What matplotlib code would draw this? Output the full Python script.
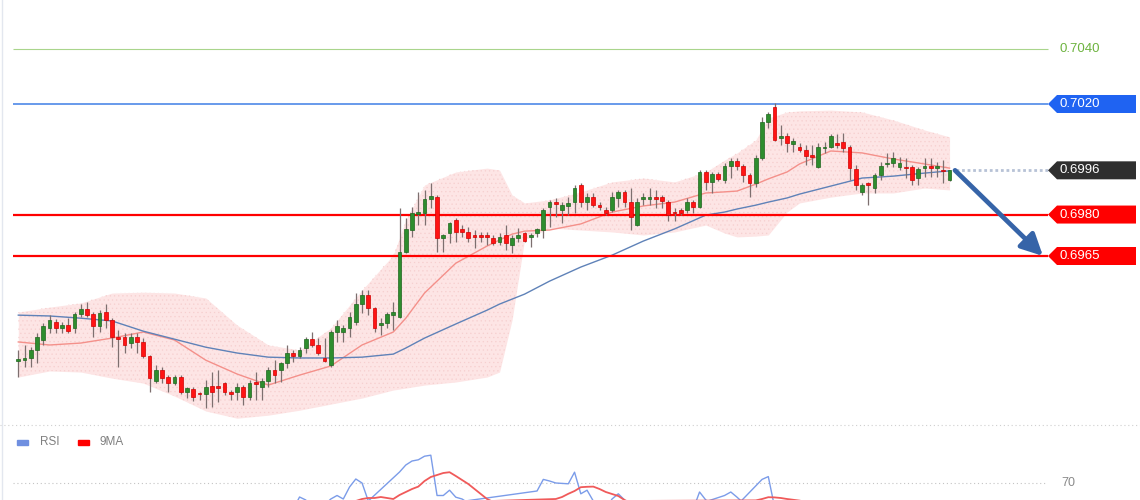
import numpy as np
import matplotlib
matplotlib.use("Agg")
import matplotlib.pyplot as plt
from matplotlib.patches import Polygon, Rectangle
from matplotlib.transforms import IdentityTransform

# ---------------- data ----------------
opens = [0.69270,0.69273,0.69281,0.69310,0.69346,0.69389,0.69411,0.69389,0.69400,0.69389,
         0.69440,0.69458,0.69440,0.69396,0.69447,0.69418,0.69357,0.69357,0.69335,0.69357,
         0.69339,0.69288,0.69197,0.69237,0.69212,0.69190,0.69212,0.69158,0.69168,0.69154,
         0.69150,0.69179,0.69179,0.69190,0.69158,0.69158,0.69176,0.69139,0.69194,0.69176,
         0.69197,0.69237,0.69237,0.69262,0.69299,0.69288,0.69317,0.69349,0.69328,0.69281,
         0.69255,0.69375,0.69375,0.69389,0.69411,0.69476,0.69509,0.69462,0.69400,0.69407,
         0.69436,0.69429,0.69664,0.69744,0.69802,0.69805,0.69856,0.69863,0.69715,0.69733,
         0.69780,0.69748,0.69737,0.69726,0.69726,0.69726,0.69715,0.69701,0.69726,0.69690,
         0.69715,0.69733,0.69719,0.69733,0.69744,0.69827,0.69845,0.69816,0.69831,0.69845,
         0.69907,0.69845,0.69863,0.69834,0.69816,0.69816,0.69860,0.69882,0.69845,0.69762,
         0.69856,0.69858,0.69863,0.69863,0.69845,0.69809,0.69816,0.69816,0.69845,0.69827,
         0.69954,0.69918,0.69947,0.69925,0.69976,0.69994,0.69976,0.69943,0.69914,0.70005,
         0.70135,0.70189,0.70077,0.70084,0.70055,0.70044,0.70034,0.70015,0.69972,0.70041,
         0.70044,0.70059,0.70063,0.70044,0.69965,0.69882,0.69914,0.69896,0.69943,0.69983,
         0.69986,0.69972,0.69972,0.69972,0.69932,0.69968,0.69976,0.69968,0.69961,0.69925]
highs = [0.69310,0.69328,0.69320,0.69371,0.69407,0.69436,0.69422,0.69411,0.69425,0.69447,
         0.69476,0.69483,0.69447,0.69454,0.69476,0.69425,0.69382,0.69371,0.69371,0.69371,
         0.69353,0.69291,0.69255,0.69248,0.69219,0.69219,0.69219,0.69176,0.69176,0.69158,
         0.69201,0.69230,0.69237,0.69194,0.69165,0.69190,0.69183,0.69201,0.69230,0.69208,
         0.69248,0.69273,0.69266,0.69328,0.69310,0.69320,0.69357,0.69375,0.69353,0.69353,
         0.69382,0.69418,0.69400,0.69447,0.69516,0.69527,0.69527,0.69465,0.69425,0.69447,
         0.69483,0.69824,0.69787,0.69827,0.69882,0.69889,0.69914,0.69871,0.69729,0.69773,
         0.69787,0.69762,0.69755,0.69744,0.69737,0.69737,0.69726,0.69733,0.69762,0.69726,
         0.69751,0.69737,0.69733,0.69751,0.69824,0.69853,0.69860,0.69845,0.69863,0.69907,
         0.69914,0.69878,0.69878,0.69845,0.69827,0.69882,0.69889,0.69889,0.69896,0.69860,
         0.69878,0.69896,0.69889,0.69871,0.69853,0.69824,0.69824,0.69860,0.69853,0.69961,
         0.69961,0.69954,0.69954,0.69986,0.70005,0.70005,0.69983,0.69950,0.70015,0.70153,
         0.70171,0.70204,0.70124,0.70095,0.70077,0.70059,0.70052,0.70052,0.70059,0.70063,
         0.70091,0.70091,0.70095,0.70052,0.69979,0.69914,0.69918,0.69950,0.69990,0.70023,
         0.70026,0.70008,0.70005,0.69979,0.69972,0.70005,0.70005,0.69990,0.69997,0.69962]
lows = [0.69212,0.69248,0.69248,0.69262,0.69328,0.69371,0.69371,0.69371,0.69371,0.69371,
        0.69429,0.69429,0.69357,0.69375,0.69389,0.69320,0.69248,0.69299,0.69317,0.69299,
        0.69281,0.69158,0.69190,0.69190,0.69158,0.69183,0.69150,0.69136,0.69125,0.69129,
        0.69100,0.69103,0.69121,0.69147,0.69129,0.69129,0.69110,0.69129,0.69129,0.69129,
        0.69176,0.69190,0.69194,0.69244,0.69266,0.69281,0.69299,0.69320,0.69291,0.69266,
        0.69248,0.69339,0.69339,0.69357,0.69400,0.69443,0.69436,0.69375,0.69364,0.69389,
        0.69382,0.69425,0.69661,0.69719,0.69762,0.69762,0.69824,0.69664,0.69664,0.69697,
        0.69701,0.69719,0.69701,0.69679,0.69701,0.69690,0.69690,0.69690,0.69672,0.69661,
        0.69701,0.69701,0.69682,0.69719,0.69715,0.69755,0.69791,0.69769,0.69798,0.69805,
        0.69827,0.69816,0.69827,0.69816,0.69798,0.69809,0.69827,0.69827,0.69744,0.69758,
        0.69834,0.69834,0.69824,0.69824,0.69777,0.69777,0.69798,0.69805,0.69805,0.69824,
        0.69889,0.69878,0.69921,0.69914,0.69932,0.69961,0.69918,0.69863,0.69900,0.69997,
        0.70113,0.70066,0.70052,0.70026,0.70026,0.70026,0.69979,0.69979,0.69968,0.70023,
        0.70041,0.70041,0.70026,0.69925,0.69889,0.69871,0.69834,0.69878,0.69925,0.69972,
        0.69972,0.69961,0.69932,0.69907,0.69907,0.69936,0.69936,0.69936,0.69914,0.69921]
closes = [0.69277,0.69281,0.69310,0.69357,0.69396,0.69418,0.69389,0.69400,0.69378,0.69440,
          0.69458,0.69436,0.69396,0.69443,0.69418,0.69357,0.69349,0.69328,0.69357,0.69339,
          0.69288,0.69208,0.69237,0.69208,0.69190,0.69212,0.69158,0.69172,0.69139,0.69150,
          0.69176,0.69158,0.69172,0.69158,0.69150,0.69176,0.69139,0.69190,0.69186,0.69197,
          0.69237,0.69219,0.69262,0.69299,0.69288,0.69310,0.69349,0.69328,0.69299,0.69270,
          0.69375,0.69396,0.69389,0.69429,0.69476,0.69509,0.69462,0.69389,0.69407,0.69440,
          0.69447,0.69664,0.69748,0.69805,0.69809,0.69856,0.69867,0.69715,0.69726,0.69769,
          0.69737,0.69737,0.69715,0.69719,0.69719,0.69719,0.69697,0.69719,0.69697,0.69715,
          0.69726,0.69704,0.69726,0.69748,0.69816,0.69845,0.69838,0.69834,0.69842,0.69896,
          0.69845,0.69863,0.69834,0.69827,0.69805,0.69863,0.69882,0.69845,0.69791,0.69845,
          0.69863,0.69865,0.69856,0.69849,0.69798,0.69804,0.69805,0.69845,0.69827,0.69954,
          0.69918,0.69947,0.69929,0.69976,0.69994,0.69976,0.69943,0.69914,0.70005,0.70135,
          0.70164,0.70070,0.70084,0.70059,0.70066,0.70034,0.70012,0.70010,0.70044,0.70046,
          0.70084,0.70052,0.70041,0.69968,0.69907,0.69907,0.69907,0.69943,0.69976,0.69986,
          0.70005,0.69986,0.69967,0.69925,0.69965,0.69976,0.69968,0.69976,0.69958,0.69960]

# indicator lines (read at these candle numbers)
ind_idx = [0,5,10,15,20,25,30,35,40,45,50,55,60,62,65,70,75,77,79,81,85,90,95,100,
           105,110,113,115,118,120,123,125,130,135,140,145,149]
ma_red = [0.69339,0.69328,0.69335,0.69353,0.69375,0.69346,0.69273,0.69223,0.69183,0.69219,
          0.69252,0.69328,0.69375,0.69425,0.69516,0.69624,0.69686,0.69708,0.69729,0.69740,
          0.69744,0.69766,0.69809,0.69831,0.69845,0.69878,0.69882,0.69885,0.69910,0.69929,
          0.69954,0.69983,0.70030,0.70023,0.70001,0.69983,0.69968]
ma_blue = [0.69436,0.69433,0.69425,0.69415,0.69378,0.69349,0.69320,0.69299,0.69284,0.69281,
           0.69281,0.69284,0.69295,0.69317,0.69353,0.69404,0.69454,0.69476,0.69494,0.69512,
           0.69559,0.69610,0.69653,0.69704,0.69748,0.69798,0.69809,0.69820,0.69834,0.69845,
           0.69860,0.69874,0.69903,0.69932,0.69939,0.69950,0.69958]
band_up = [0.69447,0.69465,0.69480,0.69516,0.69519,0.69516,0.69498,0.69400,0.69328,0.69310,
           0.69389,0.69527,0.69653,0.69780,0.69907,0.69954,0.69968,0.69961,0.69871,0.69842,
           0.69853,0.69882,0.69918,0.69932,0.69918,0.69954,0.69997,0.70023,0.70070,0.70149,
           0.70171,0.70175,0.70178,0.70171,0.70142,0.70106,0.70081]
band_lo = [0.69212,0.69234,0.69230,0.69208,0.69190,0.69143,0.69089,0.69063,0.69074,0.69092,
           0.69114,0.69136,0.69165,0.69172,0.69183,0.69194,0.69212,0.69230,0.69418,0.69708,
           0.69751,0.69744,0.69737,0.69726,0.69737,0.69762,0.69733,0.69719,0.69722,0.69726,
           0.69809,0.69842,0.69863,0.69878,0.69878,0.69896,0.69889]

levels = [0.7040, 0.7020, 0.6980, 0.6965]
level_labels = ["0.7040", "0.7020", "0.6980", "0.6965"]
current_price = 0.6996
current_label = "0.6996"
target_price = 0.6965

rsi = [52,53,55,57,59,60,58,58,56,59,60,58,54,57,55,50,50,47,49,47,
       44,35,40,38,36,39,34,37,33,34,39,36,37,34,35,39,34,42,42,44,
       50,47,52,56,57,63,61.5,57,55,59,62,63.75,62,68,72,70,61,55,57,60,
       61,75.5,79,81,81.6,83.4,83.9,63.75,63.75,66.4,62.9,62,60,59,59,58,59,57,59,59,
       58,60,61,66,71.8,71,70,69.8,69.6,75.4,64.6,66.4,61,59,57,62,64.6,61.5,56,60,
       60,60,59,58,55,55,55,58,57,65.5,61.5,60,61,63.75,65.5,62.9,60,57,61,71.8,
       73.2,58,59,56,57,55,53,53,57,57,60,58,56,47,42,44,44,49,53,55,
       56,54,51,47,50,53,51,53,50,51]
rsi_ma = [55,55,55,56,56,57,57,57,57,58,58,58,58,58,57,56,55,54,53,52,
          50,48,46,44,43,41,40,39,38,37,36,36,36,36,36,36,36,37,38,39,
          41,42,44,46,48,50,53,55,56,57,58,59,60,60.5,61,62,62.5,62.5,63,62.5,
          62,64,65.5,67,68.2,71,73,74,75,75.4,73.5,71.5,69.5,67,64.5,62,60.5,60,60,60,
          60,60,60,60.5,60.5,61,62,63,64.6,66,67.9,68.1,68.2,67,65.5,64.5,63.5,61.5,60,59,
          58.5,58,58,57.5,57,57,57,57,58,58.5,59,59,59.5,60,60.5,60.5,60.5,61,61.3,62,
          62.9,62.8,62.5,62,61.6,61.2,60.5,59.5,58.5,58,57.5,57,56.5,55,53,52,51,50,50,50,
          50,50,50,50,50,50,51,51,51,51]
rsi_level = 70

# ---------------- figure ----------------
W, H, DPI = 1140, 500, 100
fig = plt.figure(figsize=(W / DPI, H / DPI), dpi=DPI)
fig.patch.set_facecolor("white")

PX = 6.25                      # pixels per candle
X0 = -18.3 / PX                # data x at left figure edge
XMAX = X0 + W / PX

def px2x(px):
    return X0 + px / PX

ax = fig.add_axes([0, 75 / H, 1, 425 / H])
ax.set_xlim(X0, XMAX)
ax.set_ylim(0.690385, 0.705763)
ax.axis("off")

n = len(closes)
idx = np.arange(n)
o = np.array(opens); h = np.array(highs); l = np.array(lows); c = np.array(closes)

# Bollinger-like band
ax.fill_between(ind_idx, band_lo, band_up, color="#fde5e5", lw=0, zorder=1)
plt.rcParams["hatch.linewidth"] = 0.4
ax.fill_between(ind_idx, band_lo, band_up, facecolor="none", edgecolor="#f6cfcf",
                hatch="....", lw=0, zorder=1.1)

ax.plot(ind_idx, ma_red, color="#f4908a", lw=1.0, zorder=2)
ax.plot(ind_idx, ma_blue, color="#5f82b8", lw=1.0, zorder=2)

# level lines
lx0, lx1 = px2x(13), px2x(1048)
level_colors = ["#a9d58c", "#3f7fe6", "#ff0000", "#ff0000"]
level_lw = [0.8, 1.1, 1.6, 1.6]
for v, col, lw in zip(levels, level_colors, level_lw):
    ax.plot([lx0, lx1], [v, v], color=col, lw=lw, zorder=3, solid_capstyle="butt")

# candles
up = c >= o
ax.vlines(idx, l, h, color="#7d6f6f", lw=0.9, zorder=4)
min_h = 0.000045
bottoms = np.minimum(o, c)
heights = np.maximum(np.abs(c - o), min_h)
ax.bar(idx[up], heights[up], bottom=bottoms[up], width=0.62, color="#2e8d2e",
       edgecolor="#1e661e", lw=0.5, zorder=5)
ax.bar(idx[~up], heights[~up], bottom=bottoms[~up], width=0.62, color="#ff1414",
       edgecolor="#d00000", lw=0.5, zorder=5)

# dotted current price line and arrow
ax.plot([px2x(956), lx1], [current_price, current_price], color="#b7c2d6", lw=2.0,
        dashes=(1, 1), zorder=3)
ax.annotate("", xy=(px2x(1043), target_price), xytext=(px2x(955), current_price),
            arrowprops=dict(arrowstyle="-|>,head_length=1.3,head_width=0.65",
                            lw=3.4, color="#3664a8", shrinkA=0, shrinkB=0),
            zorder=6)

# tags on the right
fig.canvas.draw()
FONT = ["Liberation Sans", "DejaVu Sans"]

def tag(value, text, fc):
    yd = ax.transData.transform((0, value))[1]
    hh = 9
    verts = [(1048, yd), (1057, yd + hh), (1136, yd + hh), (1136, yd - hh), (1057, yd - hh)]
    fig.patches.append(Polygon(verts, closed=True, transform=IdentityTransform(),
                               facecolor=fc, edgecolor="none", zorder=10))
    fig.text(1060 / W, yd / H, text, color="white", fontsize=9.5, family=FONT,
             va="center", ha="left", zorder=11)

yd = ax.transData.transform((0, levels[0]))[1]
fig.text(1060 / W, yd / H, level_labels[0], color="#6db33f", fontsize=9.5, family=FONT,
         va="center", ha="left")
tag(levels[1], level_labels[1], "#1f63f2")
tag(current_price, current_label, "#2f2f2f")
tag(levels[2], level_labels[2], "#ff0000")
tag(levels[3], level_labels[3], "#ff0000")

# ---------------- RSI panel ----------------
rax = fig.add_axes([0, 0, 1, 75 / H])
rax.set_xlim(X0, XMAX)
rax.set_ylim(61.5, 99)
rax.axis("off")
rax.plot(idx, rsi, color="#7b9ce9", lw=1.0, zorder=3)
rax.plot(idx, rsi_ma, color="#f05a5a", lw=1.3, zorder=3)
rax.plot([lx0, px2x(1045)], [rsi_level, rsi_level], color="#c4c4c4", lw=0.8,
         dashes=(1, 2.5), zorder=2)
yd = rax.transData.transform((0, rsi_level))[1]
fig.text(1061 / W, yd / H, str(rsi_level), color="#8a8a8a", fontsize=9, family=FONT,
         va="center", ha="left")

# separator & legend
fig.lines.append(plt.Line2D([0, 1], [75.5 / H, 75.5 / H], transform=fig.transFigure,
                            color="#cfcfcf", lw=0.8, dashes=(1, 2.5)))
fig.lines.append(plt.Line2D([1.5 / W, 1.5 / W], [0, 1], transform=fig.transFigure,
                            color="#e3e7ef", lw=1))
fig.patches.append(Rectangle((17 / W, (H - 445) / H), 11 / W, 5 / H,
                             transform=fig.transFigure, color="#6f8fe0"))
fig.text(40 / W, (H - 442) / H, "RSI", color="#808080", fontsize=8.5, family=FONT,
         va="center", ha="left")
fig.patches.append(Rectangle((78 / W, (H - 445) / H), 11 / W, 5 / H,
                             transform=fig.transFigure, color="#ff0000"))
fig.text(100 / W, (H - 442) / H, "9MA", color="#808080", fontsize=8.5, family=FONT,
         va="center", ha="left")

fig.savefig("out.png", dpi=DPI, facecolor="white")
